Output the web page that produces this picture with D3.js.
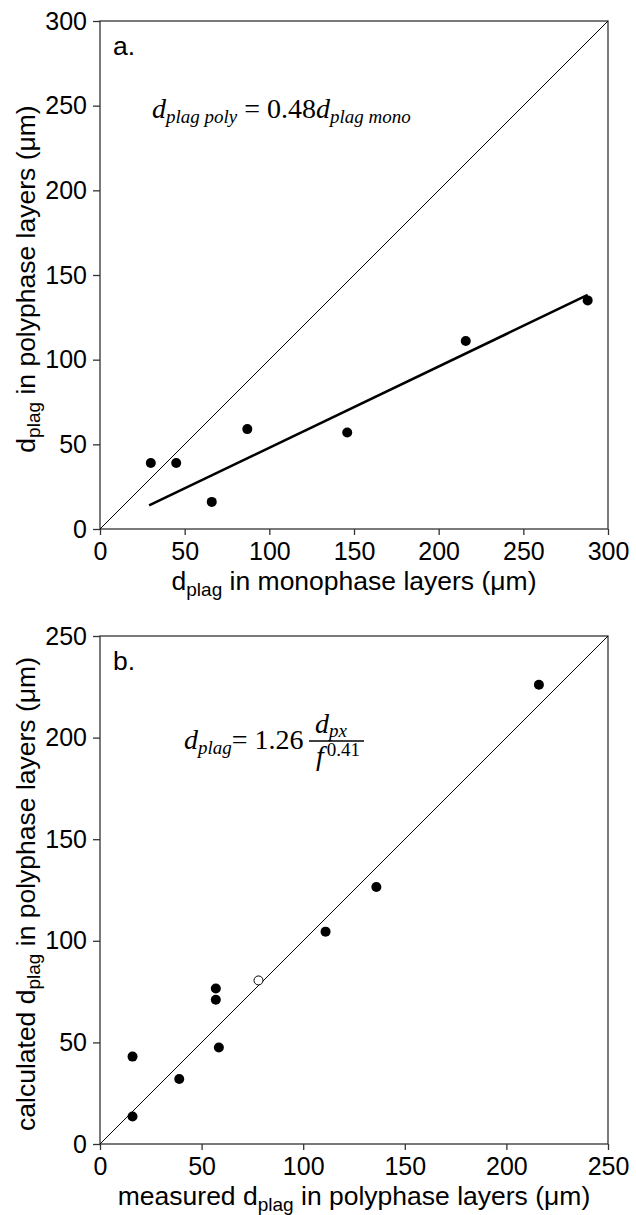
<!DOCTYPE html>
<html>
<head>
<meta charset="utf-8">
<script src="https://cdn.jsdelivr.net/npm/d3@7"></script>
<style>
  html, body { margin: 0; padding: 0; background: #fff; }
  svg { display: block; }
  .tick text { font-family: "Liberation Sans", Arial, Helvetica, sans-serif; font-size: 25px; fill: #000; }
  .tick line { stroke: #333; stroke-width: 1.3; }
  .title { font-family: "Liberation Sans", Arial, Helvetica, sans-serif; font-size: 26.5px; fill: #000; }
  .eq { font-family: "Liberation Serif", "Times New Roman", Times, serif; fill: #000; }
</style>
</head>
<body>
<script>
// Panel a: plagioclase grain size, monophase vs polyphase layers (µm)
const monoSize = [30, 45, 66, 87, 146, 216, 288];
const polySize = [39, 39, 16, 59, 57, 111, 135];
const fitRange = [29, 288];
const fitSlope = 0.48;
const ticksA = [0, 50, 100, 150, 200, 250, 300];

// Panel b: measured vs calculated plagioclase grain size (µm)
const measuredSize = [16, 16, 39, 57, 57, 58.5, 111, 136, 216];
const calculatedSize = [43, 13.5, 32, 76.5, 71, 47.5, 104.5, 126.5, 226];
const measuredOpen = [78];
const calculatedOpen = [80.5];
const ticksB = [0, 50, 100, 150, 200, 250];

const W = 636, H = 1215;
const svg = d3.select("body").append("svg").attr("width", W).attr("height", H);

function panel(opt) {
  const x = d3.scaleLinear().domain(opt.domain).range([opt.left, opt.right]);
  const y = d3.scaleLinear().domain(opt.domain).range([opt.bottom, opt.top]);
  const g = svg.append("g");

  g.append("g")
    .attr("transform", `translate(0,${opt.bottom})`)
    .call(d3.axisBottom(x).tickValues(opt.ticks).tickSize(6).tickPadding(7).tickSizeOuter(0))
    .call(a => a.select(".domain").remove());
  g.append("g")
    .attr("transform", `translate(${opt.left},0)`)
    .call(d3.axisLeft(y).tickValues(opt.ticks).tickSize(7).tickPadding(6).tickSizeOuter(0))
    .call(a => a.select(".domain").remove());

  // frame
  g.append("rect")
    .attr("x", opt.left).attr("y", opt.top)
    .attr("width", opt.right - opt.left).attr("height", opt.bottom - opt.top)
    .attr("fill", "none").attr("stroke", "#333").attr("stroke-width", 1.3);

  // 1:1 line
  g.append("line")
    .attr("x1", x(opt.domain[0])).attr("y1", y(opt.domain[0]))
    .attr("x2", x(opt.domain[1])).attr("y2", y(opt.domain[1]))
    .attr("stroke", "#000").attr("stroke-width", 1);

  // panel letter
  g.append("text").attr("class", "title")
    .attr("x", opt.left + 13).attr("y", opt.top + 34)
    .text(opt.letter);

  // axis titles with subscript
  const xt = g.append("text").attr("class", "title")
    .attr("x", (opt.left + opt.right) / 2).attr("y", opt.bottom + 61)
    .attr("text-anchor", "middle");
  xt.append("tspan").text(opt.xPre + "d");
  xt.append("tspan").attr("font-size", 19).attr("dy", 6).text("plag");
  xt.append("tspan").attr("dy", -6).text(opt.xPost);

  const yt = g.append("text").attr("class", "title")
    .attr("transform", `translate(${opt.left - 65},${(opt.top + opt.bottom) / 2 + 4}) rotate(-90)`)
    .attr("text-anchor", "middle");
  yt.append("tspan").text(opt.yPre + "d");
  yt.append("tspan").attr("font-size", 19).attr("dy", 5).text("plag");
  yt.append("tspan").attr("dy", -5).text(opt.yPost);

  return { g, x, y };
}

// ---- panel a ----
const A = panel({
  domain: [0, 300], ticks: ticksA,
  left: 100, right: 608, top: 21, bottom: 529,
  letter: "a.",
  xPre: "", xPost: " in monophase layers (\u03bcm)",
  yPre: "", yPost: " in polyphase layers (\u03bcm)"
});

A.g.append("line")
  .attr("x1", A.x(fitRange[0])).attr("y1", A.y(fitSlope * fitRange[0]))
  .attr("x2", A.x(fitRange[1])).attr("y2", A.y(fitSlope * fitRange[1]))
  .attr("stroke", "#000").attr("stroke-width", 2.6);

A.g.selectAll("circle.pt").data(monoSize).join("circle")
  .attr("class", "pt")
  .attr("cx", d => A.x(d)).attr("cy", (d, i) => A.y(polySize[i]))
  .attr("r", 5).attr("fill", "#000");

const eqA = A.g.append("text").attr("class", "eq").attr("x", 152).attr("y", 118).attr("font-size", 28);
eqA.append("tspan").attr("font-style", "italic").text("d");
eqA.append("tspan").attr("font-style", "italic").attr("font-size", 19).attr("dy", 5).text("plag poly");
eqA.append("tspan").attr("dy", -5).text(" = 0.48");
eqA.append("tspan").attr("font-style", "italic").text("d");
eqA.append("tspan").attr("font-style", "italic").attr("font-size", 19).attr("dy", 5).text("plag mono");

// ---- panel b ----
const B = panel({
  domain: [0, 250], ticks: ticksB,
  left: 100, right: 608, top: 636, bottom: 1144,
  letter: "b.",
  xPre: "measured ", xPost: " in polyphase layers (\u03bcm)",
  yPre: "calculated ", yPost: " in polyphase layers (\u03bcm)"
});

B.g.selectAll("circle.pt").data(measuredSize).join("circle")
  .attr("class", "pt")
  .attr("cx", d => B.x(d)).attr("cy", (d, i) => B.y(calculatedSize[i]))
  .attr("r", 5).attr("fill", "#000");

B.g.selectAll("circle.open").data(measuredOpen).join("circle")
  .attr("class", "open")
  .attr("cx", d => B.x(d)).attr("cy", (d, i) => B.y(calculatedOpen[i]))
  .attr("r", 4.5).attr("fill", "#fff").attr("stroke", "#000").attr("stroke-width", 1);

const eqB = B.g.append("text").attr("class", "eq").attr("x", 184).attr("y", 749).attr("font-size", 28);
eqB.append("tspan").attr("font-style", "italic").text("d");
eqB.append("tspan").attr("font-style", "italic").attr("font-size", 19).attr("dy", 5).text("plag");
eqB.append("tspan").attr("dy", -5).text("= 1.26");

const num = B.g.append("text").attr("class", "eq").attr("x", 315).attr("y", 733).attr("font-size", 28);
num.append("tspan").attr("font-style", "italic").text("d");
num.append("tspan").attr("font-style", "italic").attr("font-size", 19).attr("dy", 4).text("px");

B.g.append("line").attr("x1", 309).attr("x2", 364).attr("y1", 741).attr("y2", 741)
  .attr("stroke", "#000").attr("stroke-width", 1.3);

const den = B.g.append("text").attr("class", "eq").attr("x", 316).attr("y", 765).attr("font-size", 28);
den.append("tspan").attr("font-style", "italic").text("f");
den.append("tspan").attr("font-size", 19).attr("dy", -9).attr("dx", 3).text("0.41");
</script>
</body>
</html>
